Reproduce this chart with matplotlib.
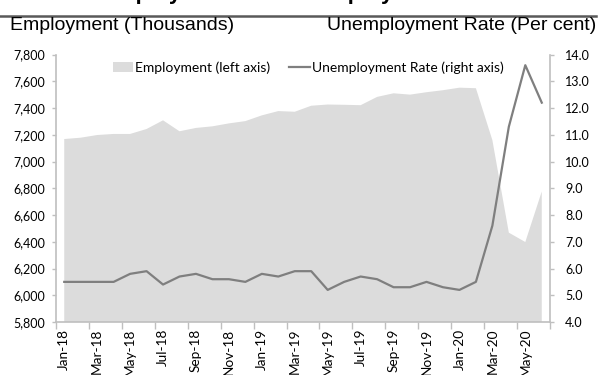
import matplotlib
matplotlib.use("Agg")
import matplotlib.pyplot as plt
import matplotlib.ticker as mticker
from matplotlib.patches import Patch
from matplotlib.lines import Line2D
import numpy as np

# Monthly series, Jan-18 .. Jun-20
months = ["Jan-18", "Feb-18", "Mar-18", "Apr-18", "May-18", "Jun-18",
          "Jul-18", "Aug-18", "Sep-18", "Oct-18", "Nov-18", "Dec-18",
          "Jan-19", "Feb-19", "Mar-19", "Apr-19", "May-19", "Jun-19",
          "Jul-19", "Aug-19", "Sep-19", "Oct-19", "Nov-19", "Dec-19",
          "Jan-20", "Feb-20", "Mar-20", "Apr-20", "May-20", "Jun-20"]

employment = [7168, 7178, 7198, 7206, 7206, 7243, 7308, 7226, 7251, 7263,
              7285, 7302, 7345, 7377, 7372, 7417, 7426, 7424, 7421, 7483,
              7510, 7500, 7518, 7533, 7552, 7548, 7160, 6468, 6398, 6776]

unemp_rate = [5.5, 5.5, 5.5, 5.5, 5.8, 5.9, 5.4, 5.7, 5.8, 5.6,
              5.6, 5.5, 5.8, 5.7, 5.9, 5.9, 5.2, 5.5, 5.7, 5.6,
              5.3, 5.3, 5.5, 5.3, 5.2, 5.5, 7.6, 11.3, 13.6, 12.2]

tick_font = "Lato"
axis_grey = "#BFBFBF"

fig = plt.figure(figsize=(6.02, 3.75), dpi=100)
ax = fig.add_axes([56 / 602, 1 - 322 / 375, (550 - 56) / 602, (322 - 54.5) / 375])
ax2 = ax.twinx()

x = np.arange(len(months))
ax.fill_between(x, 0, employment, color="#DCDCDC", linewidth=0, zorder=1)
ax2.plot(x, unemp_rate, color="#7F7F7F", linewidth=1.6, zorder=3)

ax.set_xlim(-0.5, len(months) - 0.5)
ax.set_ylim(5800, 7800)
ax2.set_ylim(4, 14)

ax.yaxis.set_major_locator(mticker.MultipleLocator(200))
ax.yaxis.set_major_formatter(mticker.FuncFormatter(lambda v, p: f"{v:,.0f}"))
ax2.yaxis.set_major_locator(mticker.MultipleLocator(1))
ax2.yaxis.set_major_formatter(mticker.FormatStrFormatter("%.1f"))

# labels on every second month, tick marks on the boundaries between pairs
ax.set_xticks(x[::2])
ax.set_xticklabels(months[::2], rotation=90, fontfamily=tick_font, fontsize=9.8)
ax.set_xticks(np.arange(-0.5, len(months), 2), minor=True)
ax.tick_params(axis="x", which="major", length=0, pad=5)
ax.tick_params(axis="x", which="minor", length=5, color=axis_grey, width=1)

ax.tick_params(axis="y", length=3, color=axis_grey, width=1, labelsize=9, pad=5)
ax2.tick_params(axis="y", length=3, color=axis_grey, width=1, labelsize=9, pad=8)
for lab in ax.get_yticklabels() + ax2.get_yticklabels():
    lab.set_fontfamily(tick_font)

for a in (ax, ax2):
    a.spines["top"].set_visible(False)
    for s in ("left", "right", "bottom"):
        a.spines[s].set_color(axis_grey)
        a.spines[s].set_linewidth(1.2)
ax.spines["right"].set_visible(False)
ax2.spines["left"].set_visible(False)
ax2.spines["bottom"].set_visible(False)

handles = [Patch(facecolor="#DCDCDC", edgecolor="none"),
           Line2D([0], [0], color="#7F7F7F", linewidth=1.6)]
ax2.legend(handles, ["Employment (left axis)", "Unemployment Rate (right axis)"],
           loc="upper center", bbox_to_anchor=(0.51, 1.01), ncol=2, frameon=False,
           prop={"family": tick_font, "size": 10}, handlelength=1.5,
           handletextpad=0.1, columnspacing=1.4, borderaxespad=0.3)

# headings above the plot
fig.text(0.5, 1 + 1.5 / 375, "Employment and Unemployment Rate", ha="center",
         va="baseline", fontsize=16, fontweight="bold", family="Liberation Sans")
fig.add_artist(Line2D([0, 0.99], [1 - 15.5 / 375] * 2, color="#595959", linewidth=1.8))
fig.text(10 / 602, 1 - 17.5 / 375, "Employment (Thousands)", ha="left", va="top",
         fontsize=14, family="Liberation Sans")
fig.text(596 / 602, 1 - 17.5 / 375, "Unemployment Rate (Per cent)", ha="right",
         va="top", fontsize=14, family="Liberation Sans")

fig.savefig("out.png", dpi=100)
